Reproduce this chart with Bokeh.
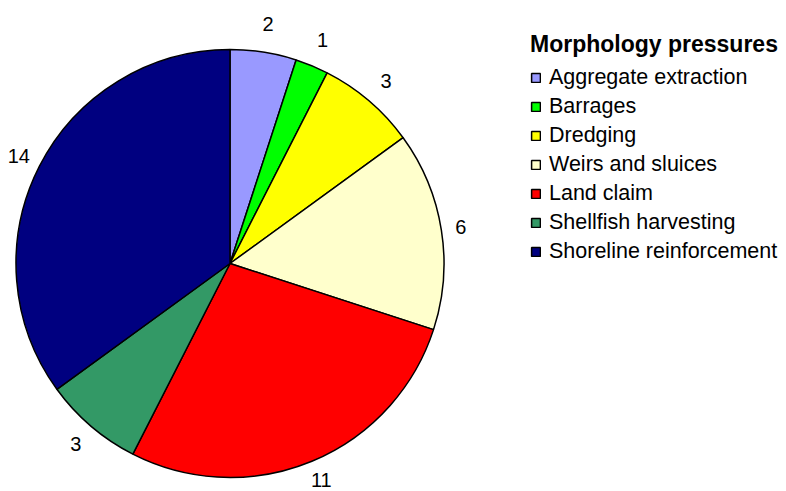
import math
import pandas as pd
from bokeh.plotting import figure
from bokeh.models import Range1d, Legend, LegendItem, ColumnDataSource
from bokeh.core.properties import value
from bokeh.embed import file_html
from bokeh.resources import INLINE

# ---- data ----
categories = ["Aggregate extraction", "Barrages", "Dredging", "Weirs and sluices",
              "Land claim", "Shellfish harvesting", "Shoreline reinforcement"]
counts = [2, 1, 3, 6, 11, 3, 14]
colors = ["#9999FF", "#00FF00", "#FFFF00", "#FFFFCC", "#FF0000", "#339966", "#000080"]
legend_title = "Morphology pressures"

W, H = 786, 491
# data coordinates equal page pixels (x) and flipped page pixels (y = H - py)
p = figure(width=W, height=H, output_backend="svg", toolbar_location=None,
           x_range=Range1d(0, W), y_range=Range1d(0, H),
           min_border=0, outline_line_color=None)
p.axis.visible = False
p.grid.visible = False

cx, cy, r = 229.5, 228.0, 214.0
total = float(sum(counts))
df = pd.DataFrame({"cat": categories, "val": counts, "color": colors})
cum = df["val"].cumsum()
df["start"] = math.pi / 2 - 2 * math.pi * (cum - df["val"]) / total
df["end"] = math.pi / 2 - 2 * math.pi * cum / total
mid = (df["start"] + df["end"]) / 2
# label distance grows slightly toward top/bottom
rl = 232 + mid.apply(lambda a: 11 * max(math.sin(a), 0) + 7 * max(-math.sin(a), 0))
df["lx"] = cx + rl * mid.apply(math.cos)
# keep labels inside the canvas
df["ly"] = (cy + rl * mid.apply(math.sin)).clip(lower=12, upper=H - 12)
df["lbl"] = df["val"].astype(str)
src = ColumnDataSource(df)

items = []
for i in range(len(df)):
    sub = ColumnDataSource(df.iloc[[i]])
    rr = p.wedge(x=cx, y=cy, radius=r, start_angle="start", end_angle="end",
                 direction="clock", fill_color="color", line_color="black",
                 line_width=1.5, source=sub)
    items.append(LegendItem(label=categories[i], renderers=[rr]))

p.text(x="lx", y="ly", text="lbl", source=src, text_align="center",
       text_baseline="middle", text_font=value("Liberation Sans"),
       text_font_size="20px", text_color="black")

legend = Legend(items=items, location=(530, 225), title=legend_title,
                title_text_font="Liberation Sans", title_text_font_style="bold",
                title_text_font_size="23px", title_text_color="black", title_standoff=5,
                label_text_font="Liberation Sans", label_text_font_size="21.5px",
                label_text_color="black",
                glyph_width=11, glyph_height=11, label_height=29, spacing=0,
                label_standoff=8, padding=0, margin=0,
                border_line_color=None, background_fill_alpha=0)
p.add_layout(legend, "center")

open("out.html", "w").write(file_html(p, INLINE))
